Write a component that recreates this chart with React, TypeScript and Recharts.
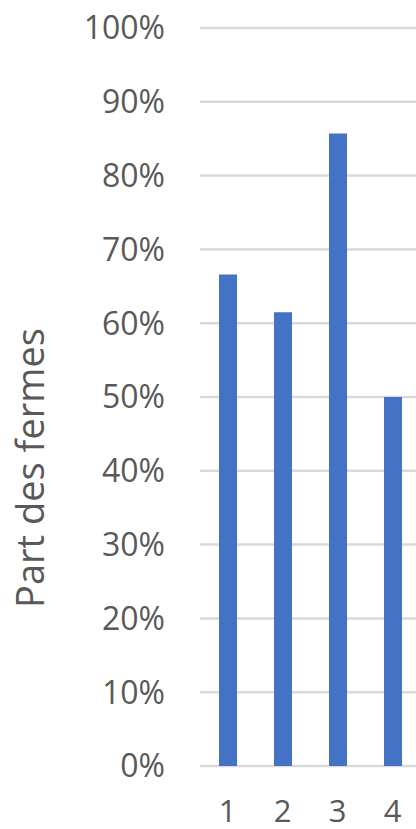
import React from 'react';
import { BarChart, Bar, XAxis, YAxis, CartesianGrid } from 'recharts';

const categories = ['1', '2', '3', '4'];
const shares = [0.666, 0.615, 0.857, 0.5];
const yTicks = [0, 0.1, 0.2, 0.3, 0.4, 0.5, 0.6, 0.7, 0.8, 0.9, 1];
const yTitle = 'Part des fermes';

const data = categories.map((c, i) => ({ name: c, value: shares[i] }));

const font = '"Open Sans", "Liberation Sans", sans-serif';
const textGray = '#595959';

export default function App() {
    return (
        <div style={{ position: 'absolute', left: 0, top: 0, width: 416, height: 829, overflow: 'hidden', background: '#fff' }}>
            <BarChart
                width={420}
                height={829}
                data={data}
                margin={{ top: 28, right: 0, bottom: 0, left: 0 }}
                barSize={18}
            >
                <CartesianGrid vertical={false} stroke="#d9d9d9" strokeWidth={2.5} />
                <XAxis
                    dataKey="name"
                    height={63}
                    axisLine={false}
                    tickLine={false}
                    tickMargin={28}
                    tick={{ fill: textGray, fontSize: 31, fontFamily: font }}
                />
                <YAxis
                    width={200}
                    domain={[0, 1]}
                    ticks={yTicks}
                    interval={0}
                    axisLine={false}
                    tickLine={false}
                    tickMargin={29}
                    tickFormatter={(v: number) => `${Math.round(v * 100)}%`}
                    tick={{ fill: textGray, fontSize: 32, fontFamily: font }}
                />
                <Bar dataKey="value" fill="#4472C4" isAnimationActive={false} />
            </BarChart>
            <svg width={60} height={829} style={{ position: 'absolute', left: 0, top: 0 }}>
                <text
                    x={29}
                    y={468}
                    transform="rotate(-90 29 468)"
                    textAnchor="middle"
                    dominantBaseline="central"
                    fill={textGray}
                    fontSize={38}
                    fontFamily={font}
                >
                    {yTitle}
                </text>
            </svg>
        </div>
    );
}
